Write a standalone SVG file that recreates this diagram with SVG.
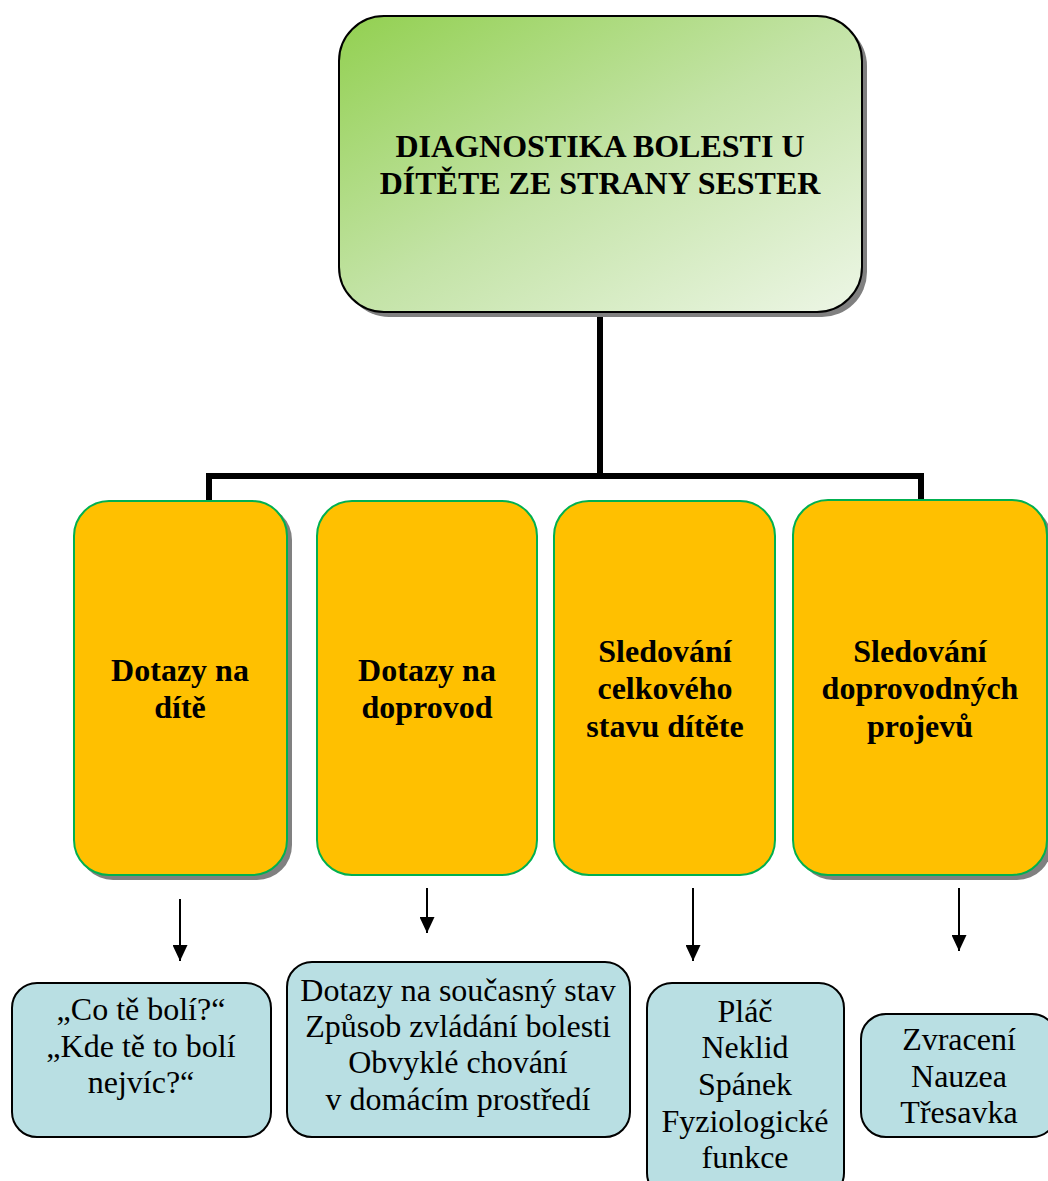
<svg xmlns="http://www.w3.org/2000/svg" width="1048" height="1181" viewBox="0 0 1048 1181">
  <defs>
    <linearGradient id="greenFill" x1="0" y1="0" x2="1" y2="1">
      <stop offset="0" stop-color="#92D050"/>
      <stop offset="0.5" stop-color="#C3E3A6"/>
      <stop offset="1" stop-color="#EDF6E6"/>
    </linearGradient>
    <marker id="arrowHead" viewBox="0 0 16 15" refX="16" refY="7.5" markerWidth="16" markerHeight="15" markerUnits="userSpaceOnUse" orient="auto">
      <path d="M0,0 L16,7.5 L0,15 Z" fill="#000"/>
    </marker>
  </defs>
  <style>
    .shadow { fill: #808080; }
    .title { fill: url(#greenFill); stroke: #000; stroke-width: 2; }
    .branch { fill: #FFC000; stroke: #00B050; stroke-width: 2; }
    .leaf { fill: #B9DFE3; stroke: #000; stroke-width: 2; }
    .bold { font-family: "Liberation Serif", "Times New Roman", serif; font-weight: bold; font-size: 32px; fill: #000; text-anchor: middle; }
    .plain { font-family: "Liberation Serif", "Times New Roman", serif; font-size: 32px; fill: #000; text-anchor: middle; }
    .tree { fill: none; stroke: #000; stroke-width: 6; }
    .arrow { fill: none; stroke: #000; stroke-width: 2; marker-end: url(#arrowHead); }
  </style>
  <rect width="1048" height="1181" fill="#fff"/>

  <!-- connectors -->
  <g id="connectors">
    <path class="tree" d="M600,315 V476 M209,500 V476 H921 V500"/>
    <line class="arrow" x1="180" y1="899" x2="180" y2="961"/>
    <line class="arrow" x1="427" y1="888" x2="427" y2="933"/>
    <line class="arrow" x1="693" y1="888" x2="693" y2="961"/>
    <line class="arrow" x1="959" y1="888" x2="959" y2="951"/>
  </g>

  <!-- root -->
  <g id="root">
    <rect class="shadow" x="344" y="21" width="523" height="296" rx="45"/>
    <rect class="title" x="339" y="16" width="523" height="296" rx="45"/>
    <text class="bold"><tspan x="600" y="157">DIAGNOSTIKA BOLESTI U</tspan><tspan x="600" y="194">DÍTĚTE ZE STRANY SESTER</tspan></text>
  </g>

  <!-- second level -->
  <g id="dotazy-dite">
    <rect class="shadow" x="78" y="505" width="214" height="375" rx="35"/>
    <rect class="branch" x="74" y="501" width="213" height="374" rx="35"/>
    <text class="bold"><tspan x="180" y="681">Dotazy na</tspan><tspan x="180" y="718">dítě</tspan></text>
  </g>
  <g id="dotazy-doprovod">
    <rect class="branch" x="317" y="501" width="220" height="374" rx="35"/>
    <text class="bold"><tspan x="427" y="681">Dotazy na</tspan><tspan x="427" y="718">doprovod</tspan></text>
  </g>
  <g id="sledovani-stavu">
    <rect class="branch" x="554" y="501" width="221" height="374" rx="35"/>
    <text class="bold"><tspan x="665" y="662">Sledování</tspan><tspan x="665" y="699">celkového</tspan><tspan x="665" y="737">stavu dítěte</tspan></text>
  </g>
  <g id="sledovani-projevu">
    <rect class="shadow" x="798" y="505" width="254" height="375" rx="35"/>
    <rect class="branch" x="793" y="500" width="254" height="375" rx="35"/>
    <text class="bold"><tspan x="920" y="662">Sledování</tspan><tspan x="920" y="699">doprovodných</tspan><tspan x="920" y="737">projevů</tspan></text>
  </g>

  <!-- detail boxes -->
  <g id="otazky-dite">
    <rect class="leaf" x="12" y="983" width="259" height="154" rx="25"/>
    <text class="plain"><tspan x="141" y="1020">„Co tě bolí?“</tspan><tspan x="141" y="1057">„Kde tě to bolí</tspan><tspan x="141" y="1093">nejvíc?“</tspan></text>
  </g>
  <g id="otazky-doprovod">
    <rect class="leaf" x="287" y="962" width="343" height="175" rx="25"/>
    <text class="plain"><tspan x="458" y="1001">Dotazy na současný stav</tspan><tspan x="458" y="1037">Způsob zvládání bolesti</tspan><tspan x="458" y="1073">Obvyklé chování</tspan><tspan x="458" y="1110">v domácím prostředí</tspan></text>
  </g>
  <g id="projevy-stavu">
    <rect class="leaf" x="647" y="983" width="197" height="215" rx="25"/>
    <text class="plain"><tspan x="745" y="1022">Pláč</tspan><tspan x="745" y="1058">Neklid</tspan><tspan x="745" y="1095">Spánek</tspan><tspan x="745" y="1132">Fyziologické</tspan><tspan x="745" y="1168">funkce</tspan></text>
  </g>
  <g id="doprovodne-projevy">
    <rect class="leaf" x="861" y="1014" width="196" height="123" rx="25"/>
    <text class="plain"><tspan x="959" y="1050">Zvracení</tspan><tspan x="959" y="1087">Nauzea</tspan><tspan x="959" y="1123">Třesavka</tspan></text>
  </g>
</svg>
